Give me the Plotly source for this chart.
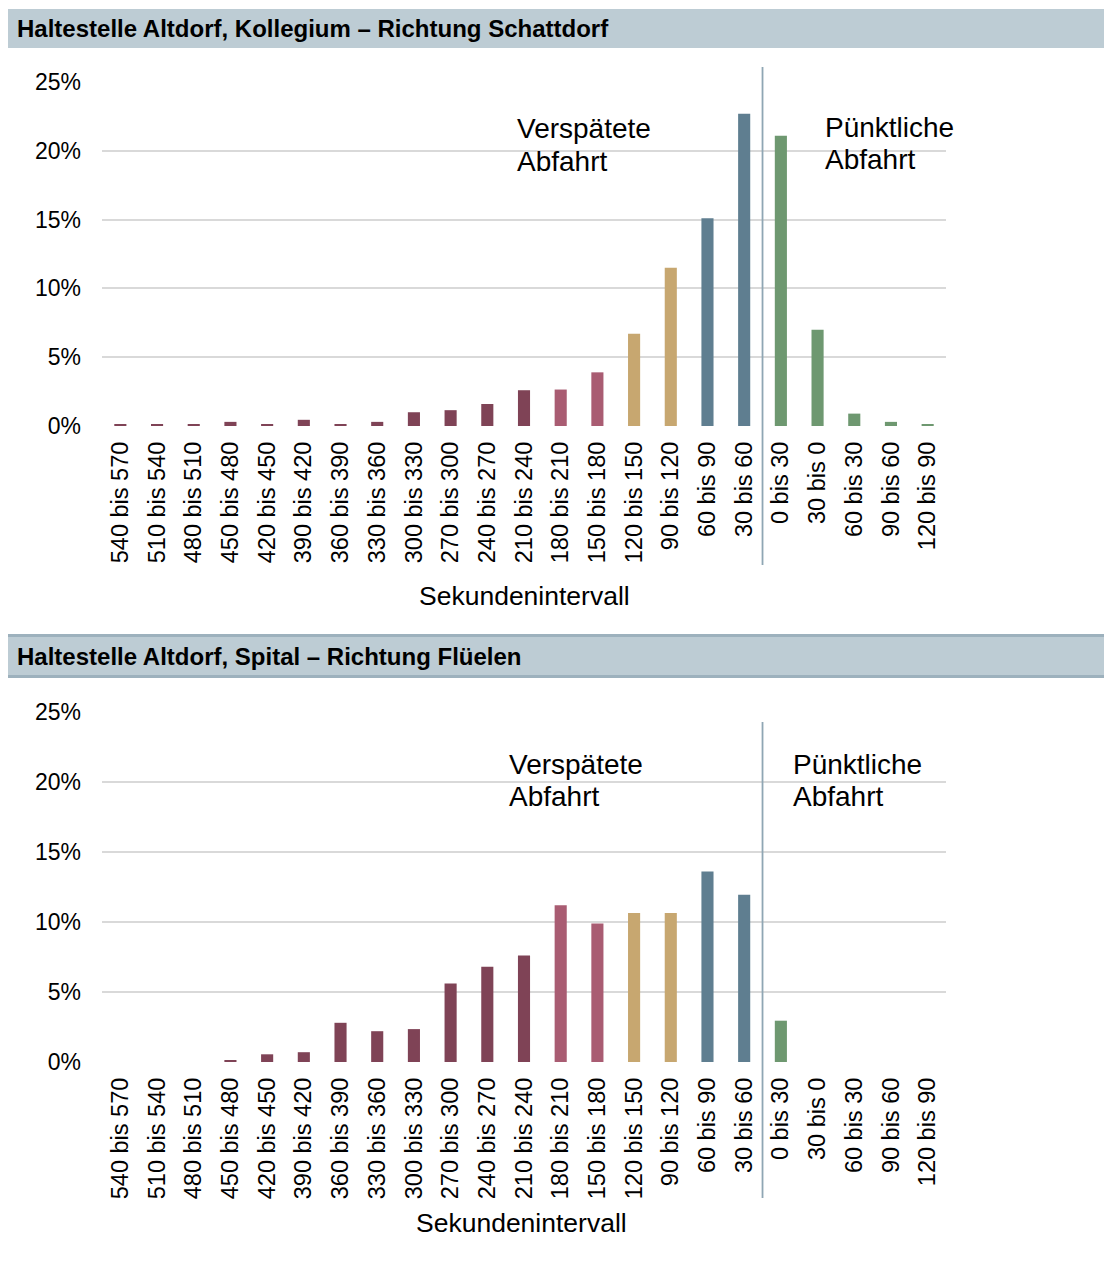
import plotly.graph_objects as go

# ---------------- data ----------------
categories = ["540 bis 570", "510 bis 540", "480 bis 510", "450 bis 480", "420 bis 450",
              "390 bis 420", "360 bis 390", "330 bis 360", "300 bis 330", "270 bis 300",
              "240 bis 270", "210 bis 240", "180 bis 210", "150 bis 180", "120 bis 150",
              "90 bis 120", "60 bis 90", "30 bis 60", "0 bis 30", "30 bis 0",
              "60 bis 30", "90 bis 60", "120 bis 90"]

kollegium_values = [0.13, 0.13, 0.13, 0.3, 0.13, 0.45, 0.13, 0.3, 1.0, 1.15, 1.6, 2.6,
                    2.65, 3.9, 6.7, 11.5, 15.1, 22.7, 21.1, 7.0, 0.9, 0.3, 0.13]

spital_values = [0, 0, 0, 0.12, 0.55, 0.7, 2.8, 2.2, 2.35, 5.6, 6.8, 7.6,
                 11.2, 9.9, 10.65, 10.65, 13.6, 11.95, 2.95, 0, 0, 0, 0]

category_groups = ["a"] * 12 + ["b"] * 2 + ["c"] * 2 + ["d"] * 2 + ["e"] * 5
group_colors = {"a": "#7F4356", "b": "#A95C72", "c": "#C7A770", "d": "#5F7E90", "e": "#6E9870"}

titles = ["Haltestelle Altdorf, Kollegium \u2013 Richtung Schattdorf",
          "Haltestelle Altdorf, Spital \u2013 Richtung Fl\u00fcelen"]
y_ticks = [0, 5, 10, 15, 20, 25]
y_tick_labels = ["0%", "5%", "10%", "15%", "20%", "25%"]
x_title = "Sekundenintervall"
late_label = ["Versp\u00e4tete", "Abfahrt"]
ontime_label = ["P\u00fcnktliche", "Abfahrt"]

# ---------------- layout helpers (pixel -> paper) ----------------
OX, OY = 8, 8          # body margin offset of the page
W, H = 1104, 1248


def px(x):
    return (x - OX) / W


def py(y):
    return 1 - (y - OY) / H


FONT = "Arial, Liberation Sans, sans-serif"
bar_colors = [group_colors[g] for g in category_groups]

fig = go.Figure()
fig.add_trace(go.Bar(x=categories, y=kollegium_values, marker=dict(color=bar_colors, line=dict(width=0)),
                     xaxis="x", yaxis="y", showlegend=False, hoverinfo="x+y"))
fig.add_trace(go.Bar(x=categories, y=spital_values, marker=dict(color=bar_colors, line=dict(width=0)),
                     xaxis="x2", yaxis="y2", showlegend=False, hoverinfo="x+y"))

xdom = [px(102), px(946)]
panels = [
    dict(y0=426, y1=82, band=(9, 48), border=False, line=(67, 565), title_y=596, title_x=524,
         late=(515, 129, 161), ontime=(823, 127, 159)),
    dict(y0=1062, y1=712, band=(634, 678), border=True, line=(722, 1198), title_y=1223, title_x=521,
         late=(507, 764, 796), ontime=(791, 764, 796)),
]

axis_common_x = dict(type="category", showgrid=False, zeroline=False, showline=False,
                     tickangle=-90, ticks="", tickfont=dict(family=FONT, size=23.5, color="#000000"),
                     ticklabelstandoff=10, fixedrange=True, automargin=False)
axis_common_y = dict(range=[0, 25], tickmode="array", tickvals=y_ticks, ticktext=y_tick_labels,
                     showgrid=True, gridcolor="#D9D9D9", gridwidth=1.5, zeroline=False, showline=False,
                     ticks="", tickfont=dict(family=FONT, size=23, color="#000000"),
                     ticklabelstandoff=20, fixedrange=True, automargin=False)

fig.update_layout(
    xaxis=dict(domain=xdom, anchor="y", **axis_common_x),
    yaxis=dict(domain=[py(panels[0]["y0"]), py(panels[0]["y1"])], anchor="x", **axis_common_y),
    xaxis2=dict(domain=xdom, anchor="y2", **axis_common_x),
    yaxis2=dict(domain=[py(panels[1]["y0"]), py(panels[1]["y1"])], anchor="x2", **axis_common_y),
)

shapes = []
annotations = []


def text_ann(text, x, y, size, xanchor="left", bold=False):
    return dict(text=("<b>" + text + "</b>") if bold else text, xref="paper", yref="paper",
                x=px(x), y=py(y), xanchor=xanchor, yanchor="middle", showarrow=False,
                font=dict(family=FONT, size=size, color="#000000"))


for i, p in enumerate(panels):
    xr = "x" if i == 0 else "x2"
    b0, b1 = p["band"]
    shapes.append(dict(type="rect", xref="paper", yref="paper", x0=px(7), x1=px(1110),
                       y0=py(b1), y1=py(b0), fillcolor="#BDCCD4", line=dict(width=0), layer="below"))
    if p["border"]:
        for yy in (b0 + 1.5, b1 - 1.5):
            shapes.append(dict(type="line", xref="paper", yref="paper", x0=px(7), x1=px(1110),
                               y0=py(yy), y1=py(yy), line=dict(color="#9DB1BD", width=3)))
    l0, l1 = p["line"]
    shapes.append(dict(type="line", xref=xr, yref="paper", x0=17.5, x1=17.5,
                       y0=py(l1), y1=py(l0), line=dict(color="#8FA6B4", width=1.8)))
    annotations.append(text_ann(titles[i], 15, (b0 + b1) / 2, 24, bold=True))
    annotations.append(text_ann(x_title, p["title_x"], p["title_y"], 26.5, xanchor="center"))
    lx, ly1, ly2 = p["late"]
    annotations.append(text_ann(late_label[0], lx, ly1, 28))
    annotations.append(text_ann(late_label[1], lx, ly2, 28))
    ox, oy1, oy2 = p["ontime"]
    annotations.append(text_ann(ontime_label[0], ox, oy1, 28))
    annotations.append(text_ann(ontime_label[1], ox, oy2, 28))

fig.update_layout(
    template="none",
    width=W, height=H, autosize=False,
    margin=dict(l=0, r=0, t=0, b=0, pad=0),
    paper_bgcolor="#FFFFFF", plot_bgcolor="#FFFFFF",
    bargap=0.67,
    shapes=shapes, annotations=annotations,
    font=dict(family=FONT, color="#000000"),
)

fig.write_html("out.html")
